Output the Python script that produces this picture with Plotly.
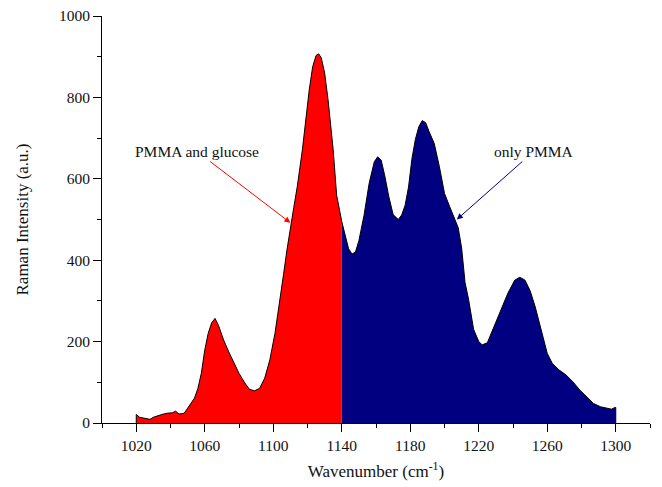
import plotly.graph_objects as go

# Red part: PMMA and glucose (1020-1140 cm-1)
wn_red = [1020, 1020, 1022, 1025, 1028, 1030, 1032, 1035, 1038, 1041, 1043, 1045, 1048, 1050,
          1052, 1054, 1056, 1058, 1060, 1062, 1064, 1066, 1068, 1071, 1074, 1077, 1080, 1083,
          1086, 1089, 1092, 1095, 1098, 1101, 1104, 1106, 1108, 1110, 1112, 1114, 1117, 1121,
          1123, 1125, 1126.5, 1128, 1130, 1132, 1135, 1137, 1139, 1140]
int_red = [0, 21, 14, 11, 9, 14, 17, 21, 24, 25, 29, 22, 24, 36,
           48, 61, 85, 122, 179, 220, 246, 257, 240, 204, 175, 147, 122, 101,
           83, 79, 85, 110, 155, 220, 302, 365, 425, 482, 530, 580, 671, 818,
           875, 903, 907, 898, 860, 794, 671, 560, 511, 495]

# Blue part: only PMMA (1140-1300 cm-1)
wn_blue = [1140, 1142, 1144, 1146, 1148, 1150, 1153, 1156, 1159, 1161, 1163, 1165, 1167.5, 1170,
           1173, 1175, 1177, 1179, 1181, 1183, 1185, 1187, 1189, 1191, 1194, 1197, 1200, 1203,
           1205, 1208, 1210, 1212, 1214, 1217, 1220, 1222, 1225, 1229, 1233, 1237, 1241, 1244,
           1247, 1250, 1253, 1256, 1260, 1263, 1267, 1271, 1275, 1279, 1283, 1287, 1291, 1295,
           1297.5, 1299.5, 1300, 1300]
int_blue = [495, 462, 428, 415, 420, 448, 510, 589, 642, 654, 646, 610, 556, 512,
            500, 511, 535, 580, 650, 697, 728, 743, 738, 716, 687, 630, 564, 532,
            511, 480, 430, 345, 305, 230, 200, 192, 197, 237, 278, 319, 351, 358,
            351, 325, 285, 237, 171, 146, 130, 118, 101, 81, 65, 48, 40, 36,
            34, 38, 38, 0]

x_major = [1020, 1060, 1100, 1140, 1180, 1220, 1260, 1300]
x_labels = ["1020", "1060", "1100", "1140", "1180", "1220", "1260", "1300"]
x_minor = [1000, 1040, 1080, 1120, 1160, 1200, 1240, 1280, 1320]
y_major = [0, 200, 400, 600, 800, 1000]
y_labels = ["0", "200", "400", "600", "800", "1000"]
y_minor = [100, 300, 500, 700, 900]

FONT = "Liberation Serif, Times New Roman, serif"

fig = go.Figure()
fig.add_trace(go.Scatter(x=wn_red, y=int_red, mode="lines", fill="tozeroy",
                         fillcolor="#FF0000", line=dict(color="black", width=1),
                         showlegend=False, hoverinfo="skip"))
fig.add_trace(go.Scatter(x=wn_blue, y=int_blue, mode="lines", fill="tozeroy",
                         fillcolor="#000080", line=dict(color="black", width=1),
                         showlegend=False, hoverinfo="skip"))

# labels with arrows (text centred at the arrow tail)
fig.add_annotation(x=1110, y=492, ax=1055.5, ay=667, xref="x", yref="y", axref="x", ayref="y",
                   text="PMMA and glucose", showarrow=True, arrowhead=2, arrowsize=1.2,
                   arrowwidth=1, arrowcolor="#FF0000",
                   font=dict(family=FONT, size=15.5, color="#111"))
fig.add_annotation(x=1207.2, y=500, ax=1252, ay=667, xref="x", yref="y", axref="x", ayref="y",
                   text="only PMMA", showarrow=True, arrowhead=2, arrowsize=1.2,
                   arrowwidth=1, arrowcolor="#000080",
                   font=dict(family=FONT, size=15.5, color="#111"))

fig.update_layout(
    width=662, height=487,
    margin=dict(l=102, r=12, t=16, b=64),
    paper_bgcolor="white", plot_bgcolor="white",
    font=dict(family=FONT, size=15, color="#111"),
    xaxis=dict(range=[1000, 1320], tickmode="array", tickvals=x_major, ticktext=x_labels,
               ticks="outside", ticklen=8, tickwidth=1, tickcolor="black",
               minor=dict(tickmode="array", tickvals=x_minor, ticks="outside", ticklen=4,
                          tickwidth=1, tickcolor="black"),
               showline=True, linecolor="black", linewidth=1, showgrid=False, zeroline=False,
               automargin=False,
               title=dict(text="Wavenumber (cm<sup>-1</sup>)", font=dict(size=17), standoff=12),
               tickfont=dict(size=15.5)),
    yaxis=dict(range=[0, 1000], tickmode="array", tickvals=y_major, ticktext=y_labels,
               ticks="outside", ticklen=8, tickwidth=1, tickcolor="black",
               minor=dict(tickmode="array", tickvals=y_minor, ticks="outside", ticklen=4,
                          tickwidth=1, tickcolor="black"),
               showline=True, linecolor="black", linewidth=1, showgrid=False, zeroline=False,
               automargin=False,
               title=dict(text="Raman Intensity (a.u.)", font=dict(size=17), standoff=25),
               tickfont=dict(size=15.5)),
)

# remove the default 8px page margin so the figure sits at the window's top-left corner
fig.write_html("out.html", config={"displayModeBar": False},
               post_script="document.body.style.margin='0';document.body.style.overflow='hidden';")
